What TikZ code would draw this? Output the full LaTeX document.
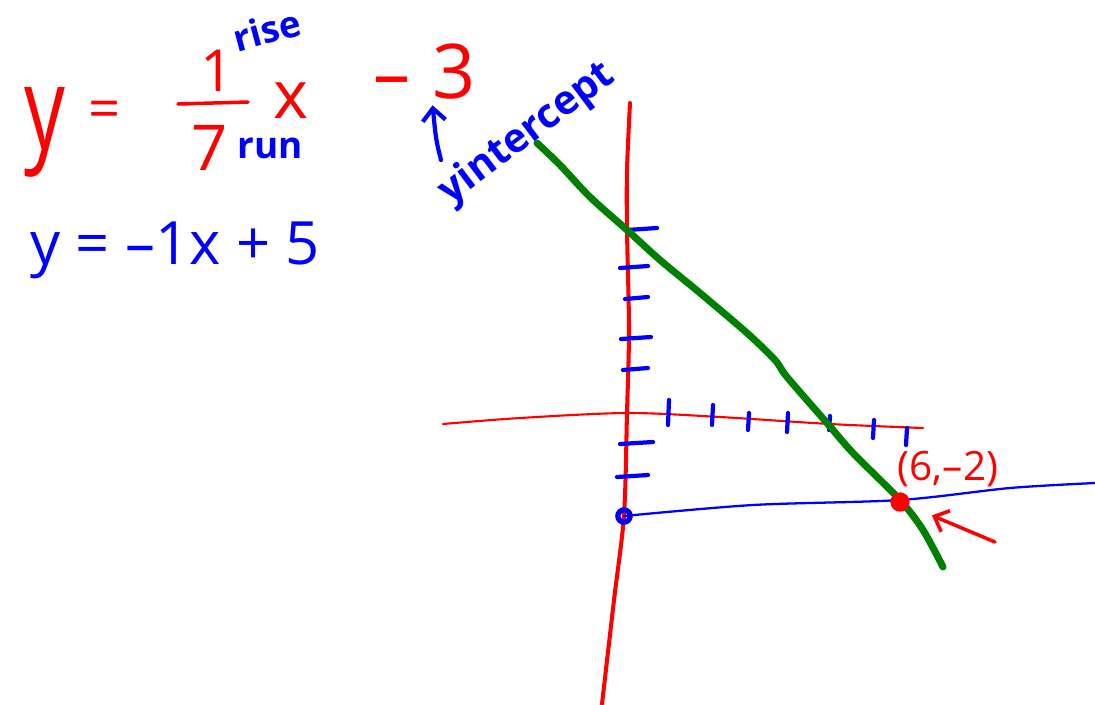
\documentclass[tikz,border=0pt]{standalone}
\usepackage{fontspec}
\setmainfont{Open Sans}
\usetikzlibrary{arrows.meta, positioning, calc}

\definecolor{inkred}{RGB}{255,0,0}
\definecolor{inkblue}{RGB}{0,0,255}
\definecolor{inkgreen}{RGB}{0,128,0}

\newcommand{\fs}[1]{\fontsize{#1}{#1}\selectfont}

\begin{document}
\begin{tikzpicture}[
  x=0.02cm, y=-0.02cm,
  redink/.style={draw=inkred, line cap=round, line join=round},
  blueink/.style={draw=inkblue, line cap=round, line join=round},
  greenink/.style={draw=inkgreen, line cap=round, line join=round, line width=4pt},
  tickmark/.style={draw=inkblue, line width=2.4pt, line cap=round},
  redtxt/.style={text=inkred, inner sep=0pt},
  bluetxt/.style={text=inkblue, inner sep=0pt},
  barb/.style={-{Straight Barb[length=7pt, width=13pt]}}
]
\useasboundingbox (0,0) rectangle (1095,704);

% ---- Equation 1: y = 1/7 x - 3 ----
\node[redtxt, font=\fs{66}, xscale=0.7] (ry) at (45,132) {y};
\node[redtxt, font=\fs{32}] (req) at (105,115) {=};
\node[redtxt, font=\fs{33}] (rnum) at (217,71) {1};
\draw[redink, line width=2pt] (178,104) -- (248,102);
\node[redtxt, font=\fs{36}] (rden) at (210,148) {7};
\node[redtxt, font=\fs{38}] (rx) at (291,101) {x};
\node[redtxt, font=\fs{42}] (rminus) at (392,88) {–};
\node[redtxt, font=\fs{43}] (three) at (454,72) {3};
\node[bluetxt, font=\fs{21}\bfseries, rotate=15] (rise) at (267,30) {rise};
\node[bluetxt, font=\fs{21}\bfseries] (run) at (270,148) {run};

% ---- Equation 2: y = -1x + 5 ----
\node[bluetxt, font=\fs{34}] (eqtwo) at (175,250) {y = –1x + 5};

% ---- y-intercept note ----
\node[bluetxt, font=\fs{23}\bfseries, rotate=37] (yinote) at (527,134) {yintercept};
\coordinate (uparrbase) at (441,160);
\draw[blueink, line width=2.4pt, barb, shorten >=3pt] (uparrbase) .. controls (436,140) .. (three.south west);

% ---- Axes ----
\draw[redink, line width=2.3pt] plot[smooth] coordinates {(630,103) (627,170) (627,230) (629,330) (627,413) (624,515) (614,600) (602,704)};
\draw[redink, line width=1.2pt] plot[smooth] coordinates {(443,424) (520,418) (627,413) (720,417) (830,424) (923,428)};

% ticks
\foreach \ya/\xa/\xb in {229/627/657, 267/620/648, 298/625/648, 338/621/651, 369/623/648, 443/620/653, 476/617/648}
  \draw[tickmark] (\xa,\ya+1) -- (\xb,\ya-1);
\foreach \xa/\ya/\yb in {669/400/425, 713/405/425, 749/413/430, 788/413/432, 830/416/430, 874/420/438, 907/428/445}
  \draw[tickmark] (\xa,\ya) -- (\xa-1,\yb);

% ---- Lines ----
\draw[greenink] plot[smooth] coordinates {(537,143) (560,165) (590,197) (627,230) (660,260) (700,293) (747,333) (775,360) (787,377) (827,423) (853,453) (900,500) (923,530) (943,567)};
\draw[blueink, line width=1.3pt] plot[smooth] coordinates {(624,516) (753,505) (900,500) (1010,488) (1095,483)};

% ---- Points ----
\node[circle, draw=inkblue, line width=3pt, minimum size=7pt, inner sep=0pt] (yint) at (624,516) {};
\node[circle, fill=inkred, minimum size=11pt, inner sep=0pt] (pt) at (900,502) {};
\node[redtxt, font=\fs{23}] (ptlbl) at (948,469) {(6,–2)};
\coordinate (arrtail) at (995,542);
\draw[redink, line width=2pt, barb, shorten >=14pt] (arrtail) -- (pt);

\end{tikzpicture}
\end{document}
